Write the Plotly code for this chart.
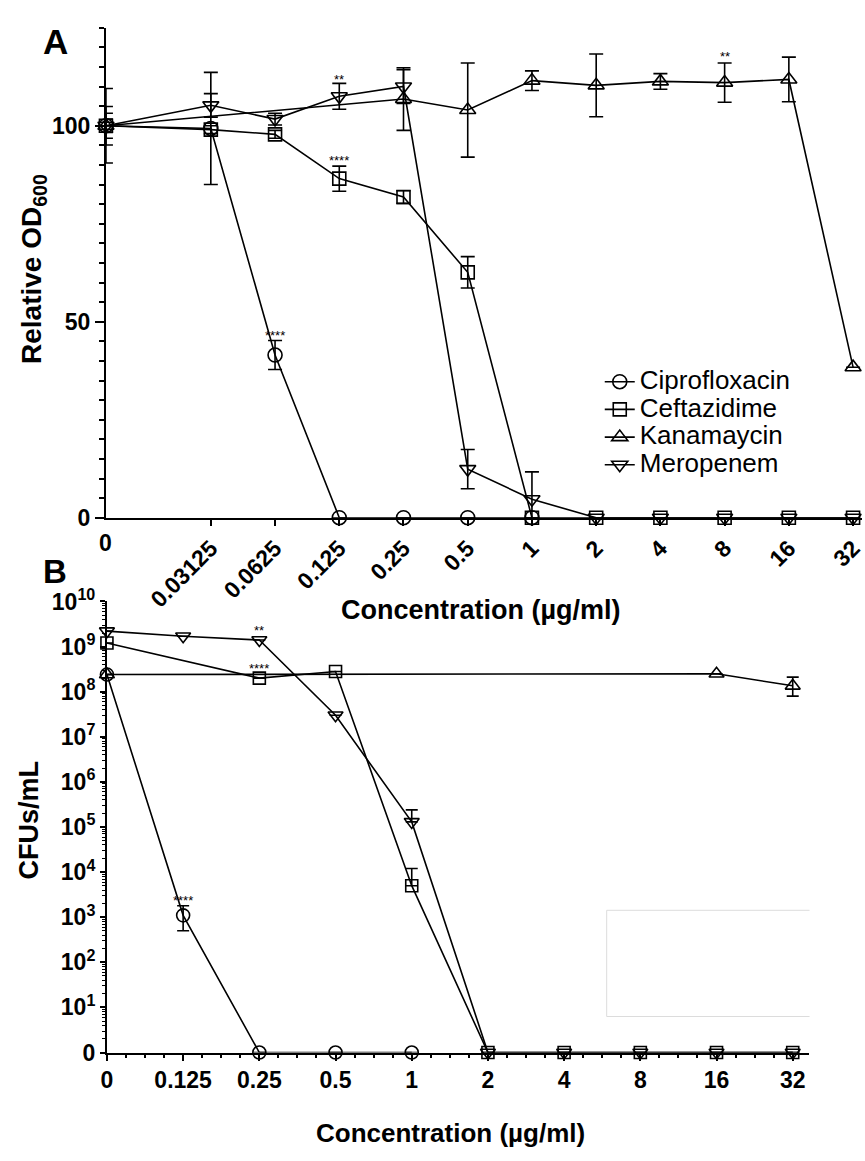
import math
import plotly.graph_objects as go

W, H = 865, 1161
FONT = "Arial, Liberation Sans, sans-serif"

# ---------------- Panel A data (Relative OD600) ----------------
conc_A = [0, 0.03125, 0.0625, 0.125, 0.25, 0.5, 1, 2, 4, 8, 16, 32]
conc_A_labels = ["0", "0.03125", "0.0625", "0.125", "0.25", "0.5", "1", "2", "4", "8", "16", "32"]

cipro_A_x = [0, 0.03125, 0.0625, 0.125, 0.25, 0.5, 1]
cipro_A_y = [100, 99.3, 41.5, 0, 0, 0, 0]
cipro_A_err = [3.2, 14.3, 3.7, 0, 0, 0, 0]

ceft_A_x = [0, 0.03125, 0.0625, 0.125, 0.25, 0.5, 1, 2, 4, 8, 16, 32]
ceft_A_y = [100, 99.0, 97.8, 86.5, 81.8, 62.6, 0, 0, 0, 0, 0, 0]
ceft_A_err = [1.7, 1.0, 1.0, 3.2, 1.6, 4.0, 0, 0, 0, 0, 0, 0]

kana_A_x = [0, 0.25, 0.5, 1, 2, 4, 8, 16, 32]
kana_A_y = [100, 106.8, 104.0, 111.5, 110.3, 111.3, 111.0, 111.8, 38.4]
kana_A_err = [9.5, 8.0, 12.0, 2.5, 8.0, 2.0, 5.0, 5.7, 0]

mero_A_x = [0, 0.03125, 0.0625, 0.125, 0.25, 0.5, 1, 2, 4, 8, 16, 32]
mero_A_y = [100, 105.2, 101.7, 107.5, 110.0, 12.4, 4.7, 0, 0, 0, 0, 0]
mero_A_err = [4.9, 3.0, 1.5, 3.3, 4.3, 5.0, 7.0, 0, 0, 0, 0, 0]

# significance marks panel A
stars_A_x = [0.0625, 0.125, 0.125, 8]
stars_A_y = [46.5, 91.0, 111.8, 117.6]
stars_A_txt = ["****", "****", "**", "**"]

# ---------------- Panel B data (CFUs/mL) ----------------
conc_B = [0, 0.125, 0.25, 0.5, 1, 2, 4, 8, 16, 32]
conc_B_labels = ["0", "0.125", "0.25", "0.5", "1", "2", "4", "8", "16", "32"]

cipro_B_x = [0, 0.125, 0.25, 0.5, 1]
cipro_B_y = [2.4e8, 1.1e3, 0, 0, 0]
cipro_B_up = [0, 7e2, 0, 0, 0]
cipro_B_dn = [0, 6e2, 0, 0, 0]

ceft_B_x = [0, 0.25, 0.5, 1, 2, 4, 8, 16, 32]
ceft_B_y = [1.2e9, 2.0e8, 2.8e8, 5.0e3, 0, 0, 0, 0, 0]
ceft_B_up = [0, 0, 0, 7e3, 0, 0, 0, 0, 0]
ceft_B_dn = [0, 0, 0, 0, 0, 0, 0, 0, 0]

kana_B_x = [0, 16, 32]
kana_B_y = [2.4e8, 2.5e8, 1.35e8]
kana_B_up = [0, 0, 0.75e8]
kana_B_dn = [0, 0, 0.55e8]

mero_B_x = [0, 0.125, 0.25, 0.5, 1, 2, 4, 8, 16, 32]
mero_B_y = [2.2e9, 1.7e9, 1.4e9, 3.0e7, 1.3e5, 0, 0, 0, 0, 0]
mero_B_up = [0, 0, 0, 0, 1.1e5, 0, 0, 0, 0, 0]
mero_B_dn = [0, 0, 0, 0, 0, 0, 0, 0, 0, 0]

stars_B_x = [0.125, 0.25, 0.25]
stars_B_y = [2.3e3, 3.2e8, 2.3e9]
stars_B_txt = ["****", "****", "**"]

ZERO_LEVEL = 1  # the "0" position on the log axis of panel B

# ---------------- axis position mapping ----------------
GAP_A = 1.633  # the broken gap between 0 and the first dilution in panel A


def pos_A(c):
    return 0 if c == 0 else math.log2(c / 0.03125) + GAP_A


def pos_B(c):
    return 0 if c == 0 else math.log2(c / 0.125) + 1


names = ["Ciprofloxacin", "Ceftazidime", "Kanamaycin", "Meropenem"]
symbols = ["circle-open", "square-open", "triangle-up-open", "triangle-down-open"]
sizes = [14, 13, 14, 14]

fig = go.Figure()

A_series = [(cipro_A_x, cipro_A_y, cipro_A_err), (ceft_A_x, ceft_A_y, ceft_A_err),
            (kana_A_x, kana_A_y, kana_A_err), (mero_A_x, mero_A_y, mero_A_err)]
for i, (xs, ys, es) in enumerate(A_series):
    fig.add_trace(go.Scatter(
        x=[pos_A(c) for c in xs], y=ys, mode="lines+markers", name=names[i],
        marker=dict(symbol=symbols[i], size=sizes[i], color="black", line=dict(width=1.6)),
        line=dict(color="black", width=1.6),
        error_y=dict(type="data", array=es, color="black", thickness=1.6, width=7),
        cliponaxis=False, xaxis="x", yaxis="y", showlegend=True,
    ))

B_series = [(cipro_B_x, cipro_B_y, cipro_B_up, cipro_B_dn), (ceft_B_x, ceft_B_y, ceft_B_up, ceft_B_dn),
            (kana_B_x, kana_B_y, kana_B_up, kana_B_dn), (mero_B_x, mero_B_y, mero_B_up, mero_B_dn)]
for i, (xs, ys, up, dn) in enumerate(B_series):
    fig.add_trace(go.Scatter(
        x=[pos_B(c) for c in xs], y=[v if v > 0 else ZERO_LEVEL for v in ys],
        mode="lines+markers", name=names[i],
        marker=dict(symbol=symbols[i], size=sizes[i] - 1, color="black", line=dict(width=1.6)),
        line=dict(color="black", width=1.6),
        error_y=dict(type="data", symmetric=False, array=up, arrayminus=dn,
                     color="black", thickness=1.6, width=6),
        cliponaxis=False, xaxis="x2", yaxis="y2", showlegend=False,
    ))

annotations = []
for x, y, t in zip(stars_A_x, stars_A_y, stars_A_txt):
    annotations.append(dict(x=pos_A(x), y=y, xref="x", yref="y", text=t, showarrow=False,
                            font=dict(family=FONT, size=13, color="black"), xanchor="center"))
for x, y, t in zip(stars_B_x, stars_B_y, stars_B_txt):
    annotations.append(dict(x=pos_B(x), y=math.log10(y), xref="x2", yref="y2", text=t, showarrow=False,
                            font=dict(family=FONT, size=13, color="black"), xanchor="center"))

# upright "0" label of the panel A concentration axis (the other labels are slanted)
annotations.append(dict(x=pos_A(0), y=1 - 540 / H, xref="x", yref="paper", text="0", showarrow=False,
                        yanchor="middle",
                        font=dict(family=FONT, size=23, color="black", weight="bold")))


def txt(x, y, t, size, angle=0, weight="bold"):
    annotations.append(dict(x=x / W, y=1 - y / H, xref="paper", yref="paper", text=t, showarrow=False,
                            textangle=angle, xanchor="center", yanchor="middle",
                            font=dict(family=FONT, size=size, color="black", weight=weight)))


txt(50, 25, "A", 35)
txt(50, 569, "B", 33)
txt(480, 609, "Concentration (µg/ml)", 27)
txt(449, 1146, "Concentration (µg/ml)", 26)
txt(28, 259, "Relative OD<sub>600</sub>", 28, -90)
txt(23, 824, "CFUs/mL", 27, -90)

axis_common = dict(showline=True, linecolor="black", linewidth=2, ticks="outside", tickcolor="black",
                   tickwidth=2, showgrid=False, zeroline=False, mirror=False,
                   tickfont=dict(family=FONT, size=23, color="black", weight="bold"))

xA_range_max = (865 - 101) / 64.9
xB_range_max = (811 - 102) / 77.0

fig.update_layout(
    width=W, height=H, margin=dict(l=0, r=0, t=0, b=0),
    paper_bgcolor="white", plot_bgcolor="white",
    xaxis=dict(axis_common, domain=[101 / W, 1.0], range=[0, xA_range_max], anchor="y",
               tickvals=[pos_A(c) for c in conc_A if c > 0],
               ticktext=[l for c, l in zip(conc_A, conc_A_labels) if c > 0],
               tickangle=-45, ticklen=6, ticklabeloverflow="allow"),
    yaxis=dict(axis_common, domain=[1 - 514 / H, 1 - 11 / H], range=[0, 125], anchor="x",
               tickvals=[0, 50, 100], ticklen=9,
               minor=dict(tickvals=list(range(0, 126, 5)), ticks="outside", ticklen=5,
                          tickcolor="black", tickwidth=1.5)),
    xaxis2=dict(axis_common, domain=[102 / W, 811 / W], range=[0, xB_range_max], anchor="y2",
                tickvals=[pos_B(c) for c in conc_B], ticktext=conc_B_labels, ticklen=6,
                minor=dict(dtick=0.25, tick0=0, ticks="outside", ticklen=3, tickcolor="black",
                           tickwidth=1.5)),
    yaxis2=dict(axis_common, type="log", domain=[1 - 1063 / H, 1 - 600 / H], range=[0, 10],
                anchor="x2", tickvals=[10 ** k for k in range(0, 11)],
                ticktext=["0"] + ["10<sup>%d</sup>" % k for k in range(1, 11)], ticklen=5,
                minor=dict(tickvals=[m * 10 ** k for k in range(0, 10) for m in range(2, 10)],
                           ticks="outside", ticklen=3, tickcolor="black", tickwidth=1)),
    legend=dict(x=600 / W, y=1 - 355 / H, xanchor="left", yanchor="top",
                bgcolor="rgba(255,255,255,0)", font=dict(family=FONT, size=19, color="black"),
                tracegroupgap=0, itemwidth=30),
    annotations=annotations,
    shapes=[dict(type="path", xref="paper", yref="paper",
                 path="M %f %f L %f %f L %f %f L %f %f" % (812 / W, 1 - 917 / H, 607 / W, 1 - 917 / H,
                                                           607 / W, 1 - 1026 / H, 812 / W, 1 - 1026 / H),
                 line=dict(color="#dcdcdc", width=1))],
    showlegend=True,
)

# legend labels shown at the larger size of the original while keeping compact row spacing
for tr in fig.data[:4]:
    tr.name = '<span style="font-size:26px">%s</span>' % tr.name

fig.write_html("out.html")
